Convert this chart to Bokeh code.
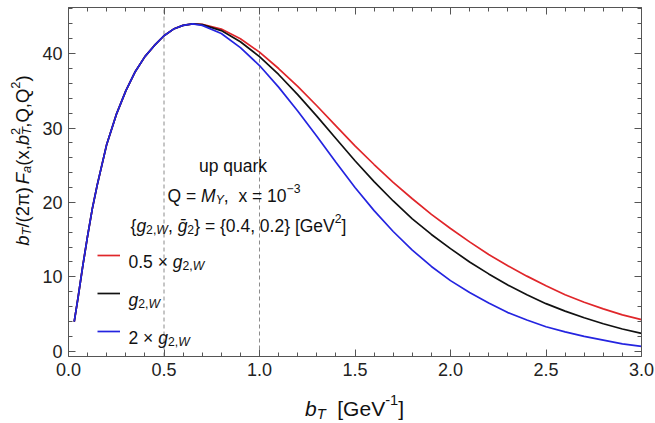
import math
from bokeh.plotting import figure
from bokeh.models import (Range1d, FixedTicker, PrintfTickFormatter, LinearAxis,
                          Label, Legend, LegendItem)
from bokeh.embed import file_html
from bokeh.resources import INLINE

# ---------------- data ----------------
bt = [0.03, 0.05, 0.075, 0.1, 0.125, 0.15, 0.2, 0.25, 0.3, 0.35, 0.4, 0.45, 0.5, 0.55, 0.6, 0.65,
      0.7, 0.8, 0.9, 1.0, 1.1, 1.2, 1.3, 1.4, 1.5, 1.6, 1.7, 1.8, 1.9, 2.0,
      2.1, 2.2, 2.3, 2.4, 2.5, 2.6, 2.7, 2.8, 2.9, 3.0]
f_half = [4.0, 7.2, 11.5, 15.5, 19.2, 22.3, 27.8, 31.8, 35.0, 37.6, 39.6, 41.1, 42.4, 43.3, 43.8, 44.0,
          43.95, 43.3, 42.0, 40.2, 38.0, 35.6, 33.0, 30.3, 27.6, 25.1, 22.7, 20.5, 18.4, 16.5,
          14.7, 13.0, 11.5, 10.1, 8.8, 7.6, 6.6, 5.7, 4.9, 4.25]
f_one = [4.0, 7.2, 11.5, 15.5, 19.2, 22.3, 27.8, 31.8, 35.0, 37.6, 39.6, 41.1, 42.4, 43.3, 43.8, 44.0,
         43.9, 43.1, 41.6, 39.6, 37.2, 34.5, 31.6, 28.6, 25.6, 22.8, 20.2, 17.8, 15.7, 13.8,
         12.0, 10.4, 8.9, 7.6, 6.4, 5.4, 4.5, 3.7, 3.0, 2.4]
f_two = [4.0, 7.2, 11.5, 15.5, 19.2, 22.3, 27.8, 31.8, 35.0, 37.6, 39.6, 41.1, 42.4, 43.3, 43.8, 44.0,
         43.8, 42.7, 40.8, 38.4, 35.5, 32.3, 28.9, 25.4, 22.0, 18.9, 16.1, 13.6, 11.4, 9.5,
         7.9, 6.5, 5.2, 4.2, 3.3, 2.6, 2.0, 1.5, 1.0, 0.65]
x_ticks = [0.0, 0.5, 1.0, 1.5, 2.0, 2.5, 3.0]
y_ticks = [0, 10, 20, 30, 40]
dashed_at = [0.5, 1.0]
X_LO, X_HI = 0.0, 3.0
Y_LO, Y_HI = -0.7, 46.2

# ---------------- layout ----------------
W, H = 655, 423
FL, FR, FT, FB = 68, 641, 7, 356          # visible plot box, canvas px
FONT = "Liberation Sans"
FRAME_C = "#555555"

sx = (FR - FL) / (X_HI - X_LO)
sy = (FB - FT) / (Y_HI - Y_LO)
xr = Range1d(X_LO - FL / sx, X_HI + (W - FR) / sx)
yr = Range1d(Y_LO - (H - FB) / sy, Y_HI + FT / sy)

p = figure(width=W, height=H, x_range=xr, y_range=yr, output_backend="svg",
           toolbar_location=None, x_axis_location=None, y_axis_location=None,
           min_border=0, background_fill_color="white", border_fill_color="white")
p.grid.visible = False
p.outline_line_color = None

xt = FixedTicker(ticks=x_ticks, minor_ticks=[round(i * 0.1, 2) for i in range(0, 31)])
yt = FixedTicker(ticks=y_ticks, minor_ticks=list(range(0, 47, 2)))

def make_axis(ticker, loc, bounds, show_labels, fmt=None):
    ax = LinearAxis(ticker=ticker, fixed_location=loc, bounds=bounds)
    if fmt is not None:
        ax.formatter = fmt
    ax.axis_line_color = FRAME_C
    ax.major_tick_line_color = FRAME_C
    ax.minor_tick_line_color = FRAME_C
    ax.major_tick_in = 7
    ax.major_tick_out = 0
    ax.minor_tick_in = 4
    ax.minor_tick_out = 0
    if show_labels:
        ax.major_label_text_font = FONT
        ax.major_label_text_font_size = "18px"
        ax.major_label_text_color = "#222222"
        ax.major_label_standoff = 6
    else:
        ax.major_label_text_color = None
    return ax

p.add_layout(make_axis(xt, Y_LO, (X_LO, X_HI), True, PrintfTickFormatter(format="%.1f")), "below")
p.add_layout(make_axis(yt, X_LO, (Y_LO, Y_HI), True), "left")
p.add_layout(make_axis(xt, Y_HI, (X_LO, X_HI), False), "above")
p.add_layout(make_axis(yt, X_HI, (Y_LO, Y_HI), False), "right")

p.segment(x0=dashed_at, y0=[Y_LO] * len(dashed_at), x1=dashed_at, y1=[Y_HI] * len(dashed_at),
          line_color="#8c8c8c", line_dash="4 3", line_width=1)

r_red = p.line(bt, f_half, line_color="#e0262a", line_width=1.7)
r_blk = p.line(bt, f_one, line_color="#111111", line_width=1.7)
r_blu = p.line(bt, f_two, line_color="#2424e0", line_width=1.7)

legend = Legend(items=[LegendItem(label=" ", renderers=[r_red]),
                       LegendItem(label=" ", renderers=[r_blk]),
                       LegendItem(label=" ", renderers=[r_blu])],
                location=(97, H - 341), glyph_width=23, glyph_height=20,
                label_height=20, spacing=18, padding=0, margin=0,
                border_line_color=None, background_fill_alpha=0,
                label_text_color=None, label_standoff=0)
p.add_layout(legend, "center")

# ---------------- rich text helper ----------------
NB = "\u00a0"
EM = {' ': 0.278, NB: 0.278, '(': 0.333, ')': 0.333, ',': 0.278, '-': 0.333, '.': 0.278,
      '/': 0.278, '=': 0.584, 'Q': 0.778, 'M': 0.833, 'G': 0.778, 'V': 0.667, 'W': 0.944,
      'F': 0.611, 'T': 0.611, 'a': 0.556, 'b': 0.556, 'e': 0.556, 'g': 0.556, 'k': 0.5,
      'p': 0.556, 'q': 0.556, 'r': 0.333, 'u': 0.556, 'x': 0.5, '[': 0.278, ']': 0.278,
      '{': 0.334, '}': 0.334, 'π': 0.56, '×': 0.584, '−': 0.584, 'Υ': 0.667, 'ḡ': 0.556}

def text_w(s, size):
    return sum(EM.get(c, 0.556) for c in s) * size

def rich(pieces, x, y, size, angle=0.0, anchor="left", color="#111111"):
    small = 0.7 * size
    sizes = [small if ("_" in st or "^" in st) else size for _, st in pieces]
    widths = [text_w(t, s) for (t, _), s in zip(pieces, sizes)]
    total = sum(w for (t, st), w in zip(pieces, widths) if "k" not in st)
    pos = -total / 2 if anchor == "center" else 0.0
    for (t, st), s, w in zip(pieces, sizes, widths):
        shift = -0.24 * size if "_" in st else (0.40 * size if "^" in st else 0.0)
        if angle == 0:
            cx, cy = x + pos, y - shift
        else:
            cx, cy = x - shift, y - pos
        p.add_layout(Label(x=cx, y=H - cy, x_units="screen", y_units="screen",
                           text=t, text_font=FONT, text_font_size=f"{s:.1f}px",
                           text_font_style="italic" if "i" in st else "normal",
                           text_color=color, angle=angle, text_align="left",
                           text_baseline="alphabetic"))
        if "k" not in st:
            pos += w

# axis titles
rich([("b", "i"), ("T", "i_"), ("/(2π)" + NB, ""), ("F", "i"), ("a", "i_"), ("(x,", ""),
      ("b", "i"), ("T", "i_k"), ("2", "^"), (",Q,Q", ""), ("2", "^"), (")", "")],
     22, 160, 18.5, angle=math.pi / 2, anchor="center")
rich([("b", "i"), ("T", "i_"), (NB + NB + "[GeV", ""), ("-1", "^"), ("]", "")],
     354, 408, 21, anchor="center")

# annotation block
rich([("up quark", "")], 232.5, 165, 17.5, anchor="center")
rich([("Q = ", ""), ("M", "i"), ("Υ", "i_"), ("," + NB + NB + "x = 10", ""), ("−3", "^")],
     233.5, 195, 17.5, anchor="center")
rich([("{", ""), ("g", "i"), ("2,", "_"), ("W", "i_"), (", ", ""), ("ḡ", "i"), ("2", "_"),
      ("} = {0.4, 0.2} [GeV", ""), ("2", "^"), ("]", "")],
     238, 225, 17.5, anchor="center")

# legend texts
rich([("0.5 × ", ""), ("g", "i"), ("2,", "_"), ("W", "i_")], 128, 261, 17.5)
rich([("g", "i"), ("2,", "_"), ("W", "i_")], 128, 299, 17.5)
rich([("2 × ", ""), ("g", "i"), ("2,", "_"), ("W", "i_")], 128, 337, 17.5)

open("out.html", "w").write(file_html(p, INLINE))
